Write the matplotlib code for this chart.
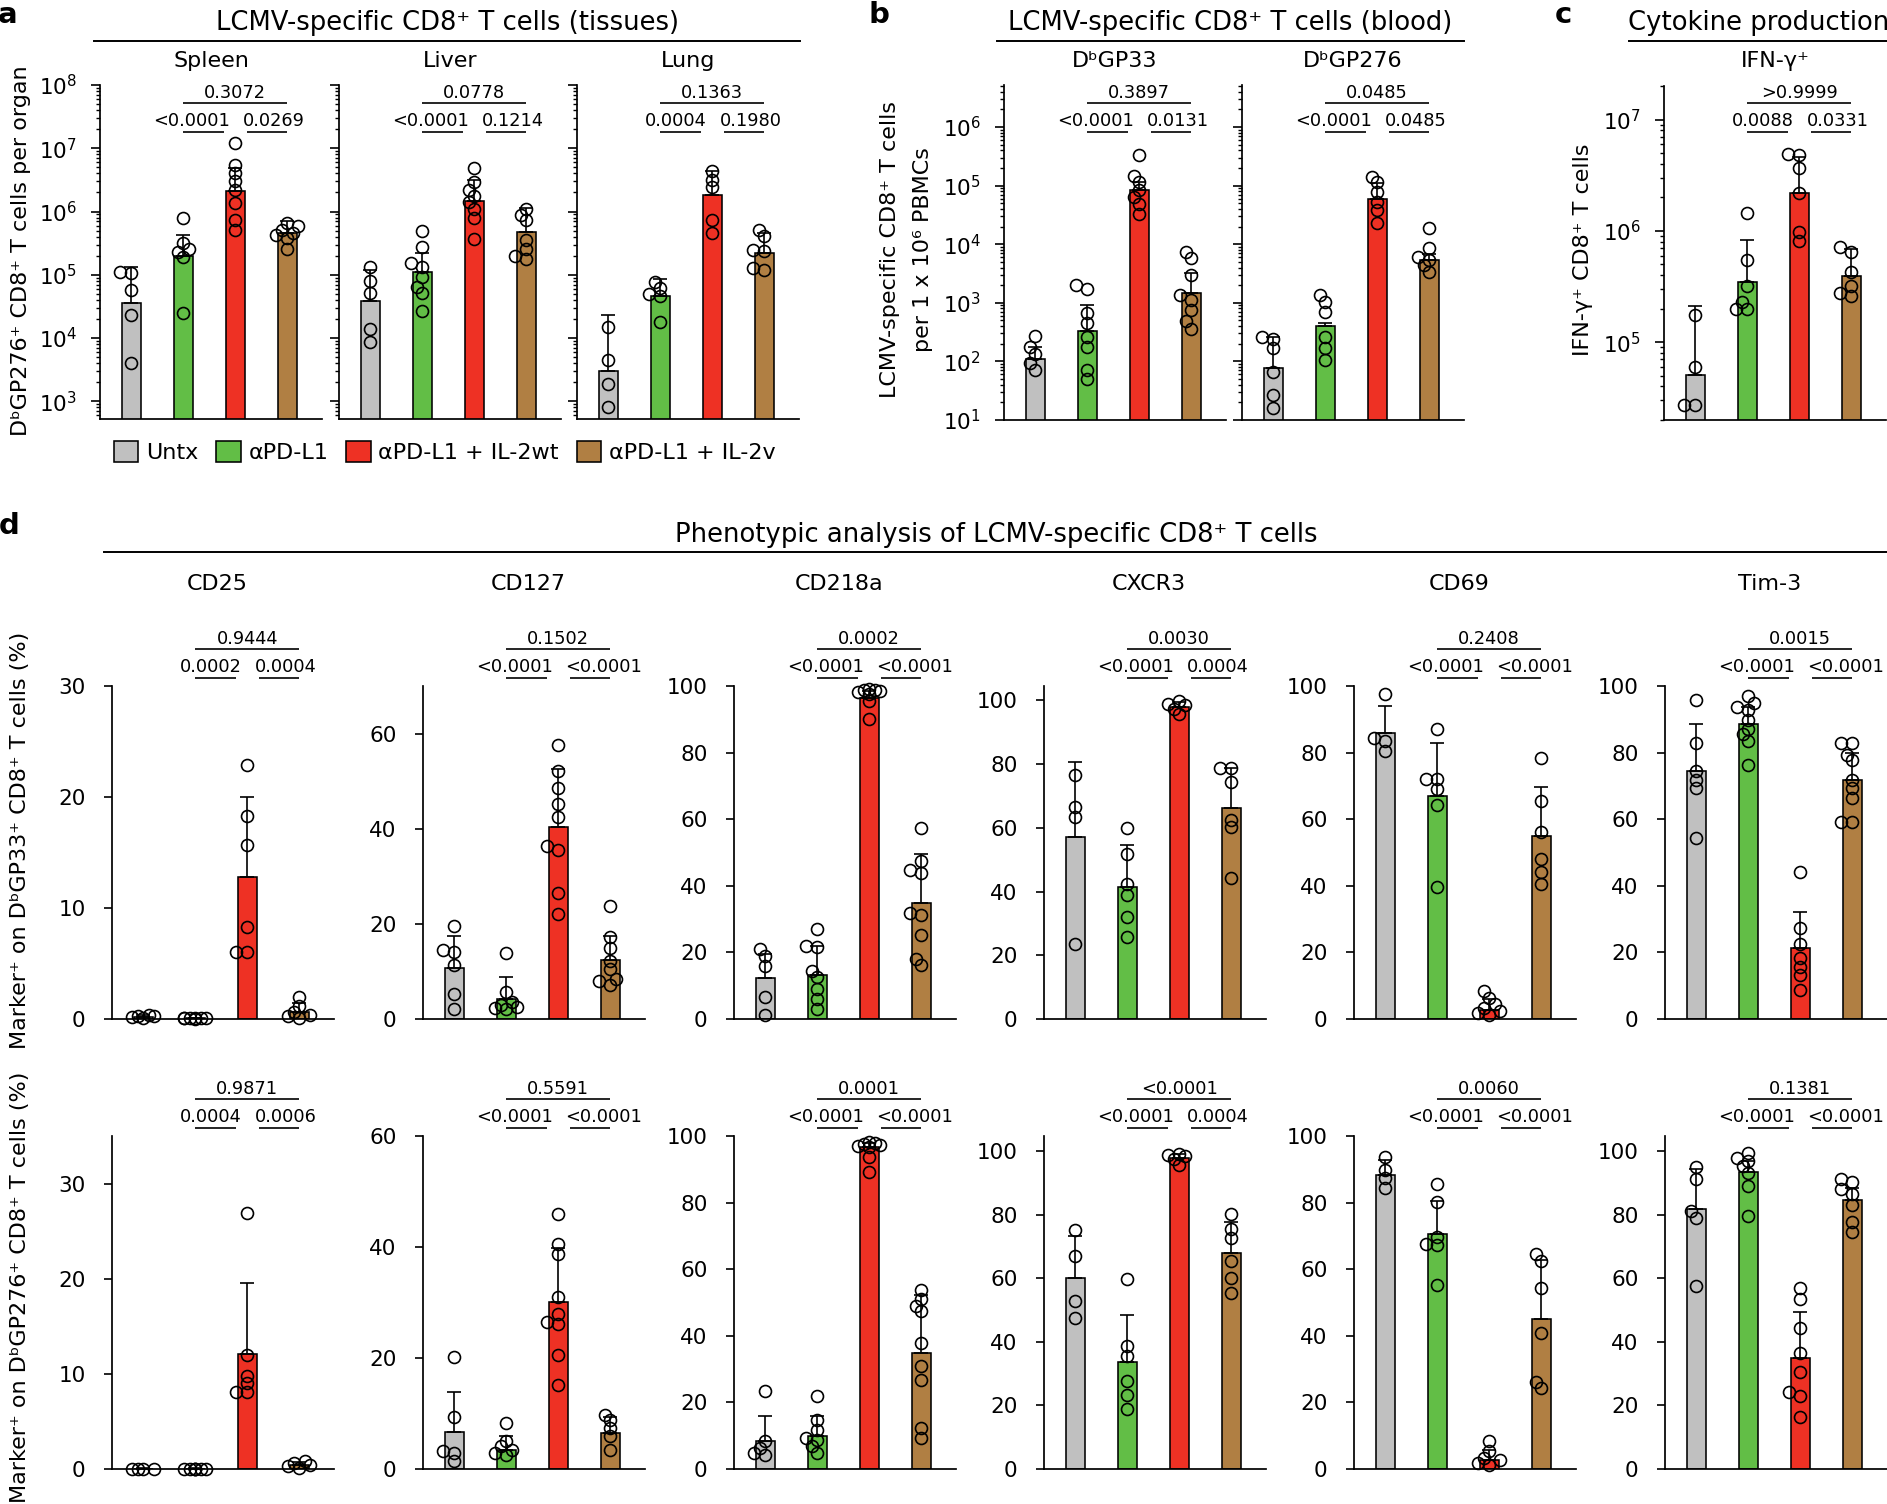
import numpy as np
import matplotlib
matplotlib.use('Agg')
import matplotlib.pyplot as plt
from matplotlib.transforms import blended_transform_factory
from matplotlib.lines import Line2D
from matplotlib.patches import Patch
from matplotlib.ticker import LogLocator, NullFormatter

plt.rcParams['font.family'] = ['DejaVu Sans']
plt.rcParams['mathtext.fontset'] = 'dejavusans'

W, H = 1887, 1504
fig = plt.figure(figsize=(W / 100, H / 100), dpi=100)

groups = ['Untx', 'αPD-L1', 'αPD-L1 + IL-2wt', 'αPD-L1 + IL-2v']
colors = ['#c0c0c0', '#62be46', '#ee3124', '#b07f43']

# ---------------- panel a: tissues (cells per organ) ----------------
spleen_mean = [3.6e4, 1.95e5, 2.1e6, 4.6e5]
spleen_top = [1.35e5, 4.2e5, 4.8e6, 7.1e5]
spleen_pts = [[1.12e5, 1.05e5, 5.8e4, 2.3e4, 4.0e3],
              [7.8e5, 3.2e5, 2.6e5, 2.3e5, 1.9e5, 2.5e4],
              [1.23e7, 5.5e6, 4.1e6, 3.0e6, 2.2e6, 1.38e6, 7.4e5, 5.1e5],
              [6.6e5, 5.9e5, 5.1e5, 4.6e5, 4.3e5, 3.8e5, 2.6e5]]
spleen_p = ['0.3072', '<0.0001', '0.0269']

liver_mean = [3.9e4, 1.12e5, 1.48e6, 4.8e5]
liver_top = [1.2e5, 2.2e5, 3.2e6, 1.15e6]
liver_pts = [[1.35e5, 8.1e4, 5.1e4, 1.4e4, 8.7e3],
             [4.9e5, 2.75e5, 1.55e5, 1.35e5, 9.3e4, 6.5e4, 5.1e4, 2.7e4],
             [4.9e6, 2.95e6, 2.2e6, 1.74e6, 1.41e6, 1.1e6, 7.9e5, 3.7e5],
             [1.1e6, 8.9e5, 7.4e5, 3.6e5, 2.6e5, 1.95e5, 1.8e5]]
liver_p = ['0.0778', '<0.0001', '0.1214']

lung_mean = [3.0e3, 4.6e4, 1.8e6, 2.2e5]
lung_top = [2.3e4, 8.5e4, 4.4e6, 4.6e5]
lung_pts = [[1.48e4, 4.5e3, 1.86e3, 8.1e2],
            [7.8e4, 6.2e4, 5.0e4, 4.6e4, 1.8e4],
            [4.4e6, 3.2e6, 2.4e6, 7.4e5, 4.6e5],
            [5.1e5, 4.1e5, 2.5e5, 2.4e5, 1.29e5, 1.2e5]]
lung_p = ['0.1363', '0.0004', '0.1980']

# ---------------- panel b: blood (per 1e6 PBMCs) ----------------
gp33_mean = [112, 330, 8.3e4, 1.45e3]
gp33_top = [178, 910, 1.15e5, 3.2e3]
gp33_pts = [[270, 178, 135, 93, 71],
            [2.0e3, 1.74e3, 660, 447, 263, 178, 71, 51],
            [3.3e5, 1.45e5, 1.15e5, 8.3e4, 6.5e4, 4.9e4, 3.3e4],
            [7.4e3, 5.8e3, 2.95e3, 1.35e3, 1.12e3, 760, 480, 363]]
gp33_p = ['0.3897', '<0.0001', '0.0131']

gp276_mean = [78, 407, 6.0e4, 5.4e3]
gp276_top = [263, 457, 1.12e5, 6.9e3]
gp276_pts = [[263, 245, 166, 65, 27, 16],
             [1.35e3, 1.05e3, 708, 263, 166, 105],
             [1.41e5, 1.15e5, 7.8e4, 5.2e4, 3.8e4, 2.3e4],
             [1.9e4, 8.5e3, 6.0e3, 5.4e3, 4.4e3, 3.4e3]]
gp276_p = ['0.0485', '<0.0001', '0.0485']

# ---------------- panel c: IFN-g+ ----------------
ifng_mean = [5.1e4, 3.5e5, 2.2e6, 3.9e5]
ifng_top = [2.1e5, 8.3e5, 4.6e6, 6.9e5]
ifng_pts = [[1.74e5, 6.0e4, 2.75e4, 2.75e4],
            [1.45e6, 5.5e5, 3.2e5, 2.3e5, 2.0e5, 2.0e5],
            [4.9e6, 4.8e6, 3.7e6, 2.2e6, 9.8e5, 8.1e5],
            [7.1e5, 6.5e5, 4.3e5, 3.2e5, 2.75e5, 2.6e5]]
ifng_p = ['>0.9999', '0.0088', '0.0331']

# ---------------- panel d: markers (%) ----------------
markers = ['CD25', 'CD127', 'CD218a', 'CXCR3', 'CD69', 'Tim-3']

# row 1: DbGP33+
cd25_r1_mean = [0.2, 0.06, 12.8, 0.6]
cd25_r1_top = [0.35, 0.1, 20.0, 1.4]
cd25_r1_pts = [[0.35, 0.25, 0.1, 0.15, 0.3], [0.05, 0.08, 0.1, 0.04, 0.06, 0.05, 0.07],
               [22.9, 18.3, 15.7, 8.3, 6.0, 6.0], [2.0, 1.2, 0.6, 0.4, 0.25, 0.1]]
cd127_r1_mean = [10.8, 4.2, 40.4, 12.3]
cd127_r1_top = [17.5, 8.9, 52.5, 17.5]
cd127_r1_pts = [[19.5, 14.4, 14.1, 11.4, 5.3, 2.0], [13.9, 5.6, 3.6, 3.0, 2.6, 2.3, 2.0],
                [57.7, 52.1, 48.5, 45.3, 42.4, 36.3, 35.5, 26.5, 22.0],
                [23.8, 17.3, 14.9, 12.1, 10.5, 8.5, 8.0, 7.1]]
cd218a_r1_mean = [12.2, 13.2, 96.4, 34.9]
cd218a_r1_top = [19.4, 22.0, 98.5, 49.4]
cd218a_r1_pts = [[21.0, 18.9, 15.8, 6.5, 1.3], [26.9, 21.8, 21.5, 14.3, 12.7, 9.1, 6.0, 2.9],
                 [99.2, 98.9, 98.7, 98.4, 98.1, 97.7, 95.4, 90.2],
                 [57.3, 47.5, 44.7, 43.7, 31.8, 31.3, 25.1, 17.9, 16.3]]
cxcr3_r1_mean = [57.0, 41.5, 97.8, 66.1]
cxcr3_r1_top = [80.8, 54.5, 99.5, 78.9]
cxcr3_r1_pts = [[76.7, 66.6, 63.5, 23.4], [59.9, 51.8, 42.3, 38.8, 32.1, 25.6],
                [99.7, 98.9, 98.4, 97.3, 95.7], [78.9, 78.9, 74.5, 62.6, 60.1, 44.4]]
cd69_r1_mean = [86.0, 67.1, 2.6, 55.1]
cd69_r1_top = [94.0, 83.0, 6.0, 69.8]
cd69_r1_pts = [[97.6, 84.5, 83.5, 80.6], [87.1, 72.1, 72.1, 69.0, 64.4, 39.6],
               [8.4, 6.3, 4.4, 3.4, 2.4, 1.9, 1.3], [78.3, 65.4, 56.1, 48.1, 44.2, 40.4]]
tim3_r1_mean = [74.5, 88.6, 21.2, 71.8]
tim3_r1_top = [88.6, 93.8, 32.0, 79.9]
tim3_r1_pts = [[95.9, 83.0, 74.4, 71.9, 69.5, 54.5],
               [96.9, 94.8, 93.8, 92.8, 89.7, 87.1, 85.5, 83.5, 76.4],
               [44.2, 27.2, 22.5, 18.4, 15.5, 13.2, 8.6],
               [83.0, 83.0, 79.3, 77.8, 71.9, 69.5, 66.4, 59.2, 59.2]]
row1_p = [['0.9444', '0.0002', '0.0004'], ['0.1502', '<0.0001', '<0.0001'],
          ['0.0002', '<0.0001', '<0.0001'], ['0.0030', '<0.0001', '0.0004'],
          ['0.2408', '<0.0001', '<0.0001'], ['0.0015', '<0.0001', '<0.0001']]
row1_ymax = [30, 70, 100, 104.5, 100, 100]

# row 2: DbGP276+
cd25_r2_mean = [0.05, 0.05, 12.1, 0.4]
cd25_r2_top = [0.08, 0.08, 19.5, 0.7]
cd25_r2_pts = [[0.05, 0.05, 0.05, 0.05], [0.05, 0.05, 0.05, 0.05, 0.05, 0.05, 0.05],
               [26.9, 12.0, 9.8, 9.0, 8.1, 8.1], [0.8, 0.6, 0.45, 0.3, 0.1]]
cd127_r2_mean = [6.6, 3.5, 30.1, 6.5]
cd127_r2_top = [13.9, 5.9, 39.9, 9.4]
cd127_r2_pts = [[20.2, 9.4, 3.3, 2.9, 1.4], [8.2, 5.0, 4.1, 3.5, 2.9, 2.6],
                [46.0, 40.5, 38.7, 31.0, 28.0, 26.5, 26.2, 20.5, 15.1], [9.7, 8.8, 7.4, 5.9, 3.5]]
cd218a_r2_mean = [8.3, 9.8, 96.8, 34.8]
cd218a_r2_top = [16.0, 16.0, 98.0, 52.3]
cd218a_r2_pts = [[23.3, 8.3, 6.3, 4.8, 4.3], [22.0, 14.8, 11.8, 9.3, 8.8, 7.0, 4.8],
                 [98.2, 97.8, 97.6, 97.3, 97.0, 96.8, 93.8, 89.3],
                 [53.8, 51.0, 48.8, 47.3, 37.8, 31.0, 26.8, 12.3, 9.3]]
cxcr3_r2_mean = [60.1, 33.6, 97.9, 68.0]
cxcr3_r2_top = [73.2, 48.3, 99.0, 77.6]
cxcr3_r2_pts = [[75.3, 66.9, 52.8, 47.6], [59.8, 38.6, 35.5, 27.6, 23.4, 18.9],
                [99.0, 98.6, 98.4, 97.4, 95.5], [80.3, 75.6, 72.5, 65.4, 60.1, 55.4]]
cd69_r2_mean = [88.3, 70.6, 2.6, 45.0]
cd69_r2_top = [92.8, 80.6, 5.8, 62.8]
cd69_r2_pts = [[93.8, 89.8, 87.3, 84.3], [85.5, 80.1, 69.8, 67.6, 67.3, 55.3],
               [8.3, 5.3, 3.3, 2.6, 1.8, 1.2], [64.6, 62.6, 54.3, 40.8, 26.0, 24.3]]
tim3_r2_mean = [81.6, 93.4, 34.9, 84.5]
tim3_r2_top = [94.2, 96.9, 49.3, 88.2]
tim3_r2_pts = [[94.8, 91.1, 81.1, 79.0, 57.5], [99.5, 97.9, 96.9, 95.3, 93.2, 89.0, 79.7],
               [57.0, 53.5, 44.4, 36.5, 30.4, 24.1, 23.1, 16.3],
               [91.3, 90.2, 87.9, 86.4, 82.9, 77.6, 74.4]]
row2_p = [['0.9871', '0.0004', '0.0006'], ['0.5591', '<0.0001', '<0.0001'],
          ['0.0001', '<0.0001', '<0.0001'], ['<0.0001', '<0.0001', '0.0004'],
          ['0.0060', '<0.0001', '<0.0001'], ['0.1381', '<0.0001', '<0.0001']]
row2_ymax = [35, 60, 100, 104.7, 100, 104.7]


# ---------------- helpers ----------------
def fy(y):
    return 1 - y / H


def box(left, top, w, h):
    return [left / W, 1 - (top + h) / H, w / W, h / H]


def style(ax, ylim, log=False, yticks=None, labels=True):
    ax.set_xlim(-0.6, 3.67)
    if log:
        ax.set_yscale('log')
        ax.yaxis.set_major_locator(LogLocator(base=10, numticks=15))
        ax.yaxis.set_minor_locator(LogLocator(base=10, subs=np.arange(2, 10), numticks=15))
        ax.yaxis.set_minor_formatter(NullFormatter())
        ax.tick_params(axis='y', which='major', length=6.2, width=1.2, pad=10.5)
        ax.tick_params(axis='y', which='minor', length=3.2, width=1.0)
    else:
        ax.set_yticks(yticks)
        ax.tick_params(axis='y', length=6, width=1.2, pad=13)
    ax.set_ylim(*ylim)
    ax.set_autoscale_on(False)
    ax.tick_params(axis='y', labelsize=15.5, labelleft=labels)
    ax.set_xticks([])
    for s in ['top', 'right']:
        ax.spines[s].set_visible(False)
    for s in ['left', 'bottom']:
        ax.spines[s].set_linewidth(1.25)
    ax.patch.set_alpha(0)


def swarm(ax, xc, vals, diam=12.5):
    vals = np.asarray(vals, dtype=float)
    pts = ax.transData.transform(np.column_stack([np.full(len(vals), float(xc)), vals]))
    ys = pts[:, 1]
    p0 = ax.transData.transform([(0, vals[0]), (1, vals[0])])
    ppu = p0[1, 0] - p0[0, 0]
    placed = []
    xs = np.zeros(len(vals))
    for i in np.argsort(ys):
        best, bestd = 0.0, -1
        for k in [0, -1, 1, -2, 2]:
            dx = k * 0.45 * diam
            d = min([np.hypot(dx - px, ys[i] - py) for px, py in placed] or [1e9])
            if d >= 0.6 * diam:
                best = dx
                break
            if d > bestd:
                bestd, best = d, dx
        placed.append((best, ys[i]))
        xs[i] = xc + best / ppu
    return xs


def draw(ax, means, tops, pts, log=False):
    x = np.arange(4)
    floor = 1.0 if log else 0.0
    ax.bar(x, np.array(means) - floor, bottom=floor, width=0.36, color=colors,
           edgecolor='k', linewidth=1.15, zorder=1)
    ax.errorbar(x, means, yerr=[np.zeros(4), np.array(tops) - np.array(means)], fmt='none',
                ecolor='k', elinewidth=1.2, capsize=5.2, capthick=1.2, zorder=2)
    for i in range(4):
        xs = swarm(ax, i, pts[i])
        ax.plot(xs, pts[i], 'o', ms=8.6, mfc='none', mec='k', mew=1.2,
                zorder=3, clip_on=False)


def pvals(ax, y1, y2, ptxt):
    tr = blended_transform_factory(ax.transData, fig.transFigure)
    kw = dict(transform=tr, color='k', lw=1.2, clip_on=False, solid_capstyle='butt')
    ax.plot([1, 3], [fy(y1)] * 2, **kw)
    ax.plot([1, 1.78], [fy(y2)] * 2, **kw)
    ax.plot([2.22, 3], [fy(y2)] * 2, **kw)
    tk = dict(transform=tr, va='baseline', fontsize=12.8, clip_on=False)
    ax.text(2, fy(y1 - 5.5), ptxt[0], ha='center', **tk)
    ax.text(1.9, fy(y2 - 5.5), ptxt[1], ha='right', **tk)
    ax.text(2.14, fy(y2 - 5.5), ptxt[2], ha='left', **tk)


def header(text, xc, y_base, x0, x1, y_line):
    fig.text(xc / W, fy(y_base), text, ha='center', va='baseline', fontsize=18.6)
    fig.add_artist(Line2D([x0 / W, x1 / W], [fy(y_line)] * 2, color='k', lw=1.4))


# ---------------- panel a ----------------
a_ylim = (525, 1e8)
for left, mean, top, pts, p, name, lab in [
        (100, spleen_mean, spleen_top, spleen_pts, spleen_p, 'Spleen', True),
        (339, liver_mean, liver_top, liver_pts, liver_p, 'Liver', False),
        (577, lung_mean, lung_top, lung_pts, lung_p, 'Lung', False)]:
    ax = fig.add_axes(box(left, 85, 222, 334))
    style(ax, a_ylim, log=True, labels=lab)
    draw(ax, mean, top, pts, log=True)
    pvals(ax, 103, 132, p)
    fig.text((left + 111) / W, fy(66.7), name, ha='center', va='baseline', fontsize=16)

header('LCMV-specific CD8⁺ T cells (tissues)', 447, 30, 94, 800, 41)
fig.text(21 / W, fy(251), 'DᵇGP276⁺ CD8⁺ T cells per organ', rotation=90,
         ha='center', va='center', fontsize=16)
fig.text(8 / W, fy(15), 'a', ha='center', va='center', fontsize=21, fontweight='bold')

handles = [Patch(facecolor=c, edgecolor='k', linewidth=1.15, label=g) for c, g in zip(colors, groups)]
fig.legend(handles=handles, loc='center left', bbox_to_anchor=(114 / W, fy(452)), ncol=4,
           frameon=False, fontsize=16, handlelength=1.1, handleheight=1.05,
           handletextpad=0.35, columnspacing=0.8, borderpad=0, borderaxespad=0)

# ---------------- panel b ----------------
b_ylim = (10, 5.2e6)
for left, mean, top, pts, p, name, lab in [
        (1004, gp33_mean, gp33_top, gp33_pts, gp33_p, 'DᵇGP33', True),
        (1242, gp276_mean, gp276_top, gp276_pts, gp276_p, 'DᵇGP276', False)]:
    ax = fig.add_axes(box(left, 85, 222, 335))
    style(ax, b_ylim, log=True, labels=lab)
    draw(ax, mean, top, pts, log=True)
    pvals(ax, 103, 132, p)
    fig.text((left + 111) / W, fy(66.7), name, ha='center', va='baseline', fontsize=16)

header('LCMV-specific CD8⁺ T cells (blood)', 1230, 30, 997, 1464, 41)
fig.text(890 / W, fy(250), 'LCMV-specific CD8⁺ T cells', rotation=90,
         ha='center', va='center', fontsize=16)
fig.text(923 / W, fy(250), 'per 1 x 10⁶ PBMCs', rotation=90,
         ha='center', va='center', fontsize=16)
fig.text(879 / W, fy(15), 'b', ha='center', va='center', fontsize=21, fontweight='bold')

# ---------------- panel c ----------------
c_ylim = (2.0e4, 2.0e7)
ax = fig.add_axes(box(1664, 86, 222, 334))
style(ax, c_ylim, log=True)
draw(ax, ifng_mean, ifng_top, ifng_pts, log=True)
pvals(ax, 103, 132, ifng_p)
fig.text(1775 / W, fy(66.7), 'IFN-γ⁺', ha='center', va='baseline', fontsize=16)
header('Cytokine production', 1759, 30, 1629, 1887, 41)
fig.text(1583 / W, fy(250), 'IFN-γ⁺ CD8⁺ T cells', rotation=90,
         ha='center', va='center', fontsize=16)
fig.text(1563 / W, fy(15), 'c', ha='center', va='center', fontsize=21, fontweight='bold')

# ---------------- panel d ----------------
d_lefts = [112, 423, 734, 1044, 1354, 1665]
row1 = [(cd25_r1_mean, cd25_r1_top, cd25_r1_pts), (cd127_r1_mean, cd127_r1_top, cd127_r1_pts),
        (cd218a_r1_mean, cd218a_r1_top, cd218a_r1_pts), (cxcr3_r1_mean, cxcr3_r1_top, cxcr3_r1_pts),
        (cd69_r1_mean, cd69_r1_top, cd69_r1_pts), (tim3_r1_mean, tim3_r1_top, tim3_r1_pts)]
row2 = [(cd25_r2_mean, cd25_r2_top, cd25_r2_pts), (cd127_r2_mean, cd127_r2_top, cd127_r2_pts),
        (cd218a_r2_mean, cd218a_r2_top, cd218a_r2_pts), (cxcr3_r2_mean, cxcr3_r2_top, cxcr3_r2_pts),
        (cd69_r2_mean, cd69_r2_top, cd69_r2_pts), (tim3_r2_mean, tim3_r2_top, tim3_r2_pts)]

for top_px, rows, ymaxs, ps in [(686, row1, row1_ymax, row1_p), (1136, row2, row2_ymax, row2_p)]:
    for j, (left, (mean, top, pts)) in enumerate(zip(d_lefts, rows)):
        ax = fig.add_axes(box(left, top_px, 222, 333))
        if j == 0:
            ticks = [0, 10, 20, 30]
        elif j == 1:
            ticks = [0, 20, 40, 60]
        else:
            ticks = [0, 20, 40, 60, 80, 100]
        style(ax, (0, ymaxs[j]), yticks=ticks)
        draw(ax, mean, top, pts)
        pvals(ax, top_px - 37, top_px - 8, ps[j])

for left, name in zip(d_lefts, markers):
    fig.text((left + 105) / W, fy(590), name, ha='center', va='baseline', fontsize=16)

header('Phenotypic analysis of LCMV-specific CD8⁺ T cells', 996, 542, 104, 1887, 552)
fig.text(20 / W, fy(840), 'Marker⁺ on DᵇGP33⁺ CD8⁺ T cells (%)', rotation=90,
         ha='center', va='center', fontsize=16)
fig.text(20 / W, fy(1287), 'Marker⁺ on DᵇGP276⁺ CD8⁺ T cells (%)', rotation=90,
         ha='center', va='center', fontsize=16)
fig.text(9 / W, fy(526), 'd', ha='center', va='center', fontsize=21, fontweight='bold')

fig.savefig('out.png', dpi=100)
